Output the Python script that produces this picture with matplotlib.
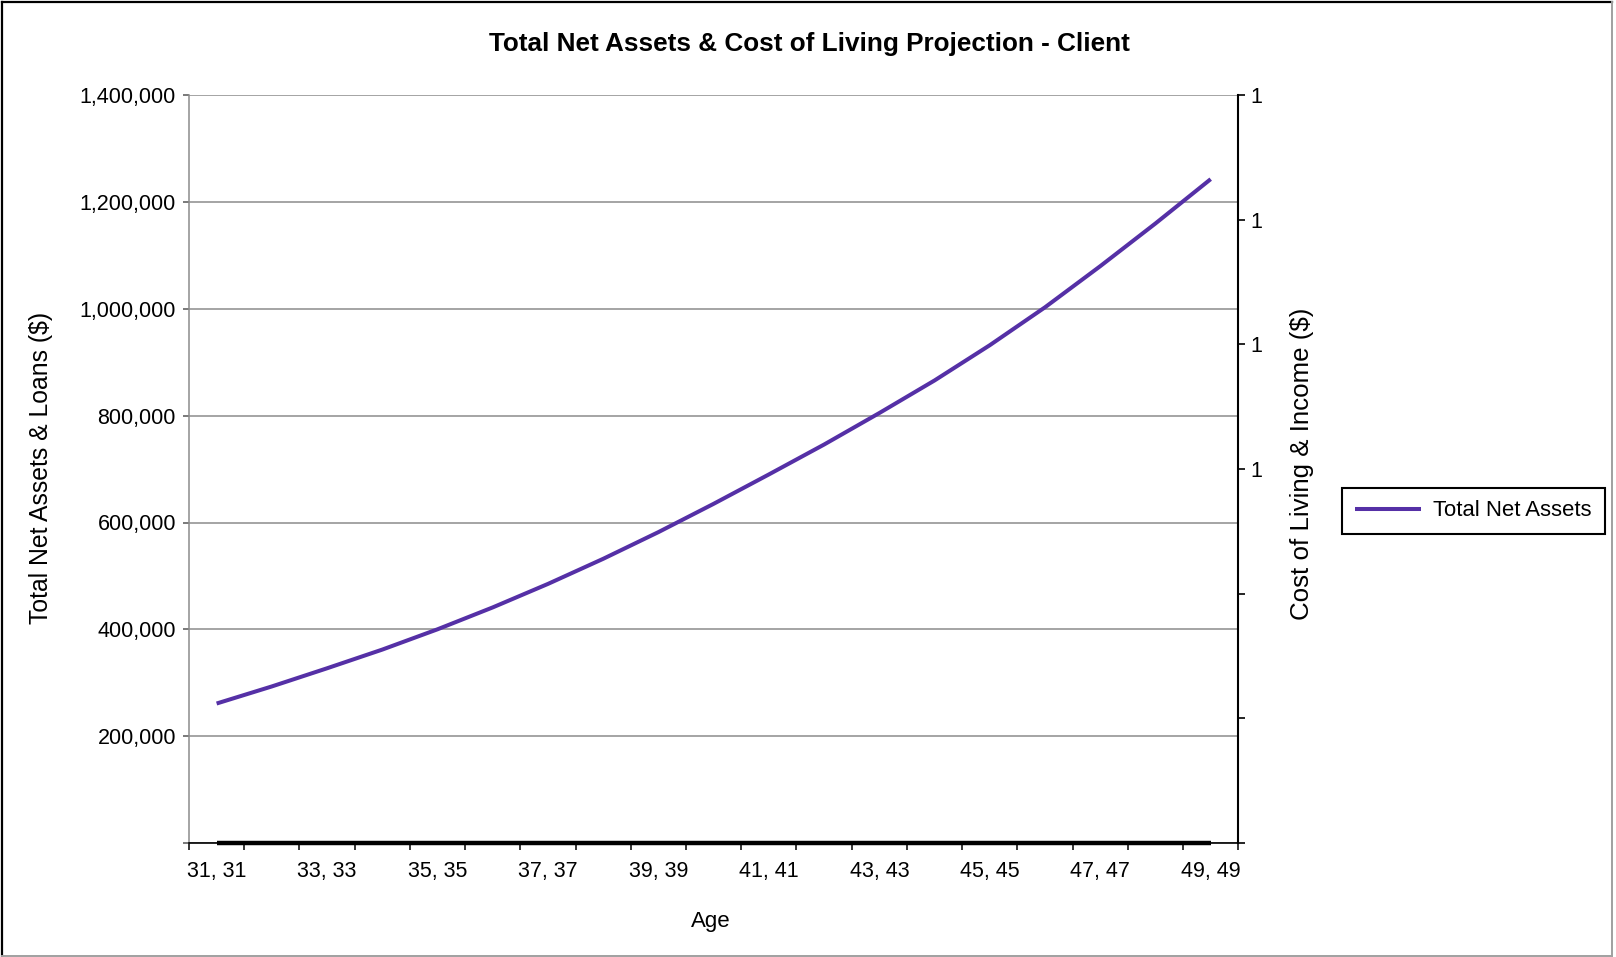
import matplotlib
matplotlib.use("Agg")
import matplotlib.pyplot as plt
from matplotlib.ticker import FixedLocator, FuncFormatter, NullFormatter
from matplotlib.lines import Line2D

plt.rcParams['font.family'] = ['Liberation Sans', 'DejaVu Sans']

# Projection data
ages = [31, 32, 33, 34, 35, 36, 37, 38, 39, 40, 41, 42, 43, 44, 45, 46, 47, 48, 49]
age_labels = [f"{a}, {a}" for a in ages]
total_net_assets = [261000, 293000, 327000, 362000, 400000, 441000, 485000,
                    532000, 582000, 635000, 690000, 746000, 805000, 866000,
                    932000, 1003000, 1080000, 1160000, 1243000]
cost_of_living = [0, 0, 0, 0, 0, 0, 0, 0, 0, 0, 0, 0, 0, 0, 0, 0, 0, 0, 0]

left_ticks = [0, 200000, 400000, 600000, 800000, 1000000, 1200000, 1400000]
right_ticks = [0, 1 / 6, 2 / 6, 3 / 6, 4 / 6, 5 / 6, 1]

title = "Total Net Assets & Cost of Living Projection - Client"
left_title = "Total Net Assets & Loans ($)"
right_title = "Cost of Living & Income ($)"
x_title = "Age"
series_name = "Total Net Assets"

LINE_COLOR = "#5530A6"
GRID = "#8c8c8c"
W, H = 1616, 957


def excel_fmt(v, pos=None):
    """Mimic the '#,###' number format: values rounding to zero show nothing."""
    r = int(v + 0.5) if v >= 0 else -int(-v + 0.5)
    return "" if r == 0 else f"{r:,}"


fig = plt.figure(figsize=(W / 100, H / 100), dpi=100)
ax = fig.add_axes([189 / W, 1 - 842.9 / H, (1238.3 - 189) / W, (842.9 - 95.3) / H])

xpos = list(range(len(ages)))
ax.set_xlim(-0.5, len(ages) - 0.5)
ax.set_ylim(left_ticks[0], left_ticks[-1])

# Horizontal gridlines
ax.yaxis.grid(True, color=GRID, lw=1.1)
ax.set_axisbelow(True)

# Series
ln, = ax.plot(xpos, total_net_assets, color=LINE_COLOR, lw=2.9,
              solid_capstyle="butt", zorder=3)
ax.plot(xpos, cost_of_living, color="black", lw=3.2, solid_capstyle="butt",
        zorder=4, clip_on=False)

# Spines
ax.spines["top"].set_visible(False)
ax.spines["right"].set_visible(False)
ax.spines["left"].set_color(GRID)
ax.spines["left"].set_linewidth(1.1)
ax.spines["bottom"].set_color("black")
ax.spines["bottom"].set_linewidth(1.2)

# Category axis: ticks between categories, labels on every second category
ax.xaxis.set_major_locator(FixedLocator([i - 0.5 for i in range(len(ages) + 1)]))
ax.xaxis.set_major_formatter(NullFormatter())
ax.xaxis.set_minor_locator(FixedLocator(xpos[::2]))
ax.set_xticklabels(age_labels[::2], minor=True)
ax.tick_params(axis="x", which="major", length=5, width=1.1, color="black",
               direction="out")
ax.tick_params(axis="x", which="minor", length=0, pad=12.7, labelsize=15.5)

# Primary value axis
ax.yaxis.set_major_locator(FixedLocator(left_ticks))
ax.yaxis.set_major_formatter(FuncFormatter(excel_fmt))
ax.tick_params(axis="y", length=4, width=1.1, color="#555555", pad=5.4,
               labelsize=15.5)

# Secondary value axis
ax2 = ax.twinx()
ax2.set_ylim(0, 1)
ax2.yaxis.set_major_locator(FixedLocator(right_ticks))
ax2.yaxis.set_major_formatter(FuncFormatter(excel_fmt))
ax2.tick_params(axis="y", length=5, width=1.2, color="black", pad=3.6,
                labelsize=15.5)
for s in ("top", "left", "bottom"):
    ax2.spines[s].set_visible(False)
ax2.spines["right"].set_color("black")
ax2.spines["right"].set_linewidth(1.5)

# Titles
fig.text(809 / W, 1 - 44.3 / H, title, ha="center", va="center",
         fontsize=18.8, fontweight="bold")
fig.text(41 / W, 1 - 468 / H, left_title, rotation=90, ha="center",
         va="center", fontsize=17.8)
fig.text(1302 / W, 1 - 464 / H, right_title, rotation=90, ha="center",
         va="center", fontsize=18.6)
fig.text(711 / W, 1 - 921 / H, x_title, ha="center", va="center",
         fontsize=16)

# Legend
leg = fig.legend(handles=[ln], labels=[series_name], loc="center left",
                 bbox_to_anchor=(1342 / W, 1 - 511 / H), frameon=True,
                 fancybox=False, edgecolor="black", fontsize=15.9,
                 handlelength=3.0, handletextpad=0.55, borderpad=0.58,
                 borderaxespad=0)
leg.get_frame().set_linewidth(1.5)
leg.get_frame().set_alpha(None)
leg.get_frame().set_facecolor("white")

# Chart border
x0, x1 = 2 / W, 1612 / W
y0, y1 = 1 - 955.5 / H, 1 - 2 / H
fig.add_artist(Line2D([x0, x0], [y0, y1], transform=fig.transFigure,
                      color="black", lw=1.6))
fig.add_artist(Line2D([x0, x1], [y1, y1], transform=fig.transFigure,
                      color="black", lw=1.6))
fig.add_artist(Line2D([x1, x1], [y0, y1], transform=fig.transFigure,
                      color="#a0a0a0", lw=1.4))
fig.add_artist(Line2D([x0, x1], [y0, y0], transform=fig.transFigure,
                      color="#a0a0a0", lw=1.4))

fig.savefig("out.png", dpi=100, facecolor="white")
